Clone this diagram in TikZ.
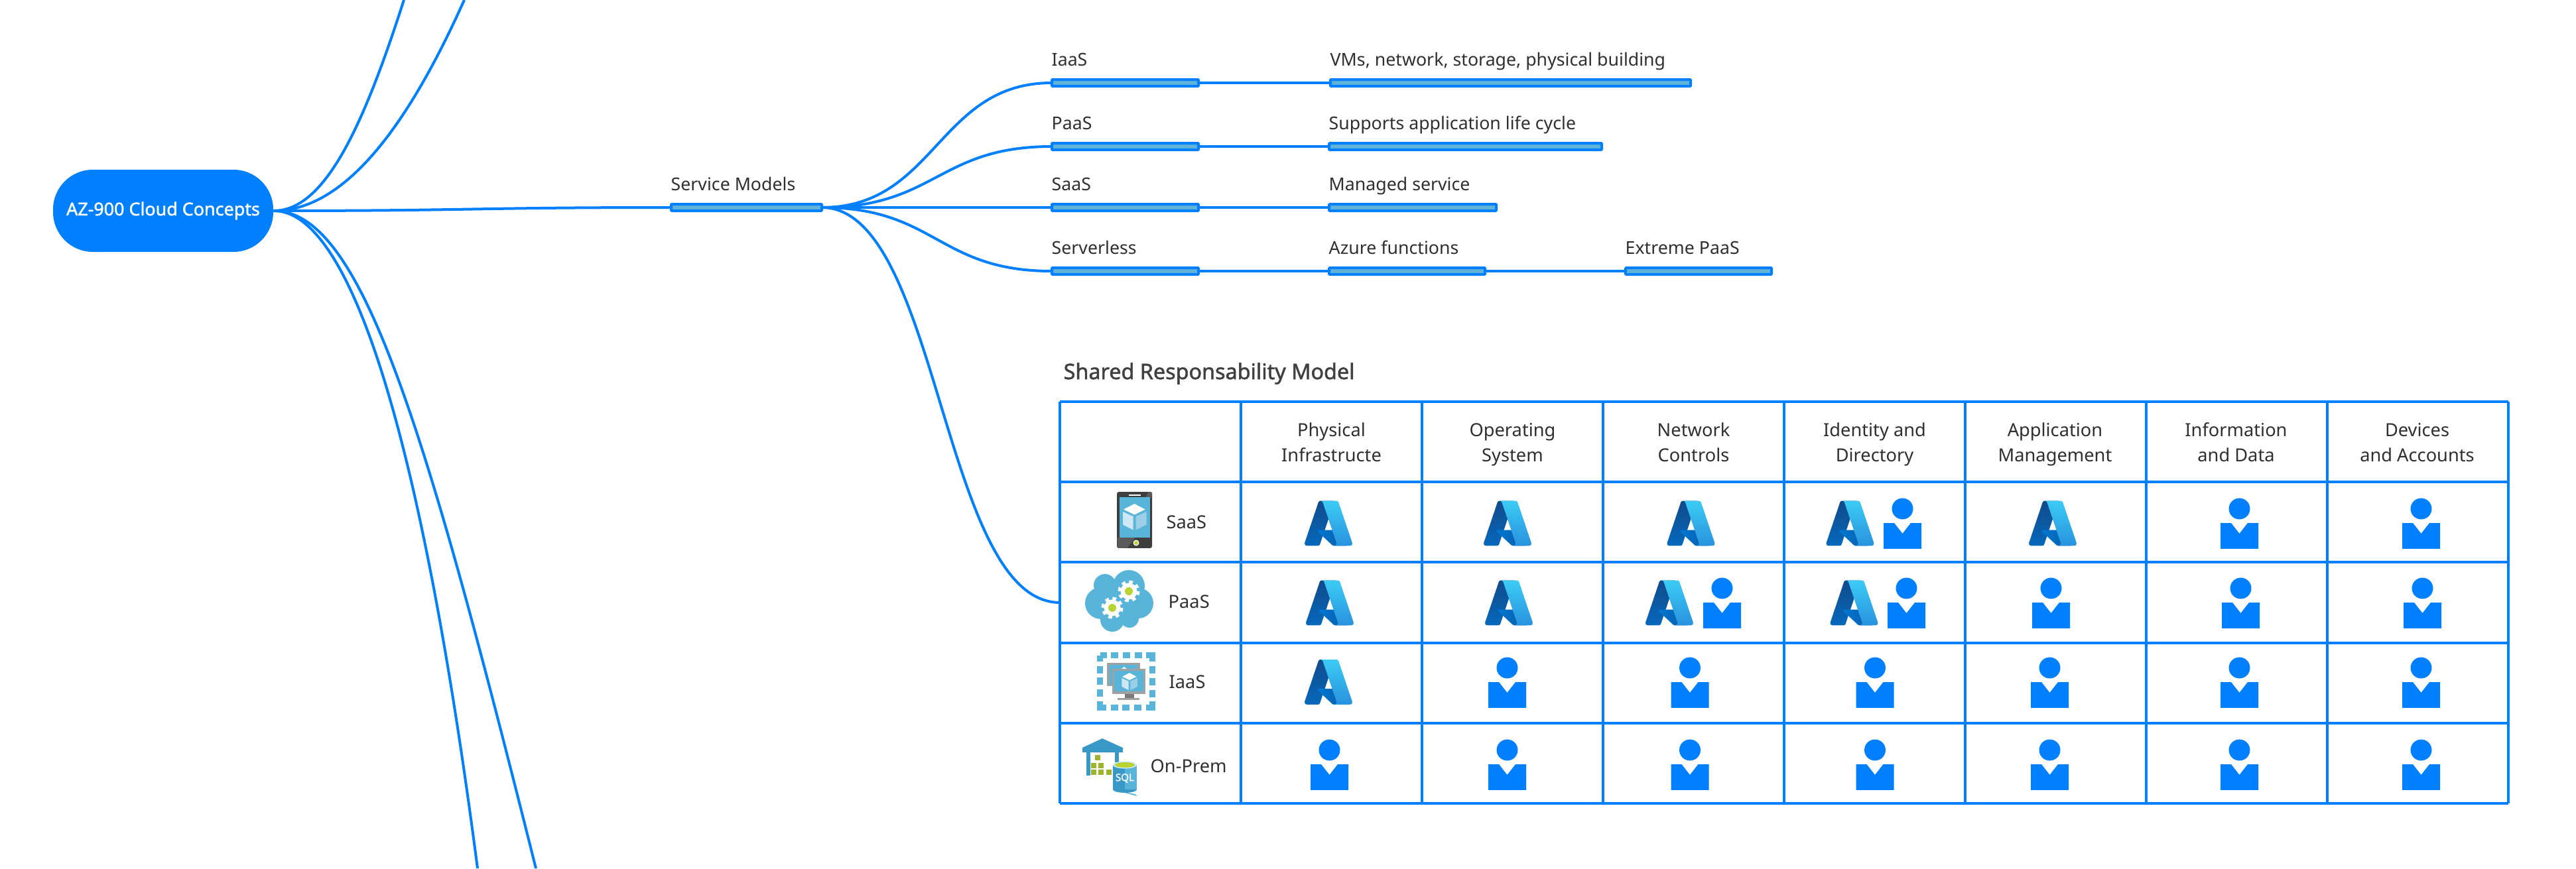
\documentclass[tikz,border=0pt]{standalone}
\usepackage{fontspec}
\setmainfont{Noto Sans}
\newfontfamily\headfont[FakeBold=1.6]{Noto Sans}
\usepackage{xcolor}
\usetikzlibrary{arrows.meta,positioning}

\definecolor{mapblue}{HTML}{007FFF}
\definecolor{barfill}{HTML}{5FB2D8}
\definecolor{iconblue}{HTML}{59B4D9}
\definecolor{icondeep}{HTML}{3999C6}
\definecolor{icongreen}{HTML}{B8D432}
\definecolor{icongrey}{HTML}{A0A1A2}
\definecolor{inktext}{HTML}{2F2F2F}
\definecolor{azA}{HTML}{114A8B}
\definecolor{azB}{HTML}{0669BC}
\definecolor{azC}{HTML}{0078D4}
\definecolor{azD}{HTML}{0A5BA6}
\definecolor{azE}{HTML}{3CCBF4}
\definecolor{azF}{HTML}{2892DF}
\definecolor{cubeA}{HTML}{CDE8F4}
\definecolor{cubeB}{HTML}{9CCFE6}
\definecolor{phonedark}{HTML}{3E3E3E}
\definecolor{phonelight}{HTML}{5A5A5A}
\definecolor{standgrey}{HTML}{7A7A7A}

\tikzset{
  azure/.pic={
    \begin{scope}[x=0.0082cm,y=-0.0082cm,shift={(-48,-48)}]
    \shade[top color=azA,bottom color=azB] (33.338,6.544) -- (59.376,6.544) -- (32.346,86.631)
      .. controls (31.8,88.3) and (30.2,89.455) .. (28.413,89.455) -- (8.149,89.455)
      .. controls (5.3,89.455) and (3.3,86.7) .. (4.221,83.985) -- (29.404,9.368)
      .. controls (30,7.7) and (31.5,6.544) .. (33.338,6.544) -- cycle;
    \shade[left color=azC,right color=azD] (71.175,60.261) -- (29.885,60.261)
      .. controls (28,60.261) and (27.2,62.3) .. (28.58,63.57) -- (55.112,88.334)
      .. controls (55.9,89.05) and (56.9,89.455) .. (57.958,89.455) -- (81.338,89.455) -- cycle;
    \shade[top color=azE,bottom color=azF] (33.648,6.544) -- (62.667,6.544)
      .. controls (64.5,6.544) and (66,7.7) .. (66.595,9.364) -- (91.779,83.984)
      .. controls (92.7,86.7) and (90.7,89.456) .. (87.851,89.456) -- (58.832,89.456)
      .. controls (61.7,89.456) and (63.7,86.7) .. (62.76,83.984) -- (37.576,9.364)
      .. controls (37,7.7) and (35.5,6.544) .. (33.648,6.544) -- cycle;
    \end{scope}
  },
  person/.pic={
    \begin{scope}[x=0.01cm,y=-0.01cm]
    \fill[mapblue] (0,-22.5) circle (16);
    \fill[mapblue] (-28.5,-1) -- (-12.5,-1) -- (0,15) -- (12.5,-1) -- (28.5,-1) -- (28.5,38) -- (-28.5,38) -- cycle;
    \end{scope}
  },
  boxcube/.pic={
    \begin{scope}[x=0.01cm,y=-0.01cm]
    \fill[white] (0,-19.5) -- (16,-11) -- (0,-3) -- (-16.5,-11) -- cycle;
    \fill[cubeA] (-17.5,-7.5) -- (-2,-0.5) -- (-2,20) -- (-17.5,12) -- cycle;
    \fill[cubeB] (2,-0.5) -- (18,-7.5) -- (18,12) -- (2,20) -- cycle;
    \end{scope}
  },
  cog/.pic={
    \begin{scope}[x=0.01cm,y=-0.01cm]
    \fill[white] (0,0) circle (12.5);
    \draw[white,line width=0.05cm,dash pattern=on 0.055cm off 0.055cm] (0,0) circle (14);
    \fill[icongreen] (0,0) circle (6);
    \end{scope}
  },
  phone/.pic={
    \begin{scope}[x=0.01cm,y=-0.01cm]
    \fill[phonedark,rounded corners=0.03cm] (-26.5,-42.5) rectangle (26.5,42.5);
    \fill[phonelight] (-26,26.5) -- (1.5,26.5) -- (-11.5,42.5) -- (-25,42.5) -- cycle;
    \fill[phonelight] (16.5,-34.5) -- (21.5,-42.5) -- (25,-42.5) -- (26.5,-41) -- (26.5,-34.5) -- cycle;
    \fill[iconblue] (-22.5,-34.5) rectangle (23.5,26.5);
    \fill[white] (-8.5,-38.5) rectangle (9.5,-36.5);
    \fill[white] (2.5,34.5) circle (4.5);
    \fill[icongreen] (2.5,34.5) circle (3);
    \pic at (0,-5) {boxcube};
    \end{scope}
  },
  cloudgear/.pic={
    \begin{scope}[x=0.01cm,y=-0.01cm]
    \fill[iconblue] (14,-24) circle (24);
    \fill[iconblue] (-22,-25) circle (17);
    \fill[iconblue] (-28,2) circle (24);
    \fill[iconblue] (-11,27) circle (18);
    \fill[iconblue] (15,25) circle (14);
    \fill[iconblue] (28,2) circle (23);
    \fill[iconblue] (0,0) circle (28);
    \pic at (14,-16) {cog};
    \pic at (-11,9) {cog};
    \end{scope}
  },
  vmframe/.pic={
    \begin{scope}[x=0.01cm,y=-0.01cm]
    \draw[iconblue,line width=0.09cm,dash pattern=on 0.19cm off 0.067cm on 0.11cm off 0.067cm on 0.11cm off 0.067cm on 0.11cm off 0.067cm,dash phase=0.095cm]
      (-39.5,-39.5) rectangle (39.5,39.5);
    \fill[icongrey] (-29,-28) rectangle (21,7);
    \fill[iconblue] (-25.5,-25) rectangle (17,5);
    \fill[white] (-7,-19) -- (-3,-22) -- (1,-19) -- cycle;
    \fill[icongrey] (-21,-19) rectangle (29,19);
    \fill[iconblue] (-18,-16) rectangle (26,15);
    \fill[standgrey] (-2,19) rectangle (12,25);
    \fill[icongrey] (-13,25) rectangle (20,28);
    \pic[scale=0.66] at (5,0) {boxcube};
    \end{scope}
  },
  onprem/.pic={
    \begin{scope}[x=0.01cm,y=-0.01cm]
    \fill[icondeep] (-11,-41) -- (20,-27) -- (20,-20) -- (-41,-20) -- (-41,-27) -- cycle;
    \fill[icondeep] (-35,-20) rectangle (-29.5,15);
    \fill[icondeep] (8,-20) rectangle (14,-5);
    \fill[icongreen!85!black] (-22,-16) rectangle +(8,8);
    \fill[icongreen!85!black] (-28,-4) rectangle +(8,8);
    \fill[icongreen!85!black] (-16.6,-4) rectangle +(8,8);
    \fill[icongreen!85!black] (-28,6) rectangle +(8,8);
    \fill[icongreen!85!black] (-16.6,6) rectangle +(8,8);
    \fill[icongreen!85!black] (-5.4,6) rectangle +(8,8);
    \fill[icondeep] (5,-1) rectangle (23,36);
    \fill[iconblue] (23,-1) rectangle (41,36);
    \fill[icondeep] (5,36) arc[start angle=180,end angle=360,x radius=18,y radius=-5] -- cycle;
    \fill[iconblue] (23,41) arc[start angle=270,end angle=360,x radius=18,y radius=5] -- cycle;
    \fill[cubeA] (23,-1) ellipse (18 and 5.5);
    \fill[icongreen] (23,-1) ellipse (15 and 4);
    \node[white,font=\headfont\fontsize{4.3}{5}\selectfont,inner sep=0] (sqltxt) at (23,19) {SQL};
    \end{scope}
  }
}

\begin{document}
\begin{tikzpicture}[
    x=1cm,y=1cm,
    bar/.style={draw=mapblue, fill=barfill, line width=0.04cm, rounded corners=0.3pt,
                minimum height=0.10cm, inner sep=0pt, outer sep=0pt},
    lbl/.style={anchor=base west, inner sep=0pt, xshift=-0.01cm, yshift=0.21cm, text=inktext,
                font=\fontsize{7.6}{9}\selectfont},
    branch/.style={draw=mapblue, line width=0.04cm},
    gridline/.style={draw=mapblue, line width=0.04cm},
    colhead/.style={anchor=base, align=center, inner sep=0pt, text=inktext,
                    font=\fontsize{7.75}{10.67}\selectfont},
    rowlbl/.style={anchor=base west, inner sep=0pt, text=inktext,
                   font=\fontsize{7.75}{9}\selectfont}
]
\useasboundingbox (0,-13.10) rectangle (38.84,0);

\node[fill=mapblue, rounded corners=0.6cm, minimum width=3.32cm, minimum height=1.24cm, inner sep=0pt,
      text=white, font=\headfont\fontsize{7.65}{9}\selectfont] (root) at (2.46,-3.18) {AZ-900 Cloud Concepts};

\node[bar, minimum width=2.27cm] (svc) at (11.255,-3.13) {};
\node[lbl] (svctxt) at (svc.north west) {Service Models};

\node[bar, minimum width=2.21cm] (iaas) at (16.965,-1.25) {};
\node[lbl] (iaastxt) at (iaas.north west) {IaaS};
\node[bar, minimum width=2.21cm] (paas) at (16.965,-2.21) {};
\node[lbl] (paastxt) at (paas.north west) {PaaS};
\node[bar, minimum width=2.21cm] (saas) at (16.965,-3.13) {};
\node[lbl] (saastxt) at (saas.north west) {SaaS};
\node[bar, minimum width=2.21cm] (srvl) at (16.965,-4.09) {};
\node[lbl] (srvltxt) at (srvl.north west) {Serverless};

\node[bar, minimum width=5.43cm] (vms) at (22.775,-1.25) {};
\node[lbl] (vmstxt) at (vms.north west) {VMs, network, storage, physical building};
\node[bar, minimum width=4.11cm] (supp) at (22.095,-2.21) {};
\node[lbl] (supptxt) at (supp.north west) {Supports application life cycle};
\node[bar, minimum width=2.52cm] (mgd) at (21.30,-3.13) {};
\node[lbl] (mgdtxt) at (mgd.north west) {Managed service};
\node[bar, minimum width=2.35cm] (azfn) at (21.215,-4.09) {};
\node[lbl] (azfntxt) at (azfn.north west) {Azure functions};
\node[bar, minimum width=2.20cm] (xpaas) at (25.61,-4.09) {};
\node[lbl] (xpaastxt) at (xpaas.north west) {Extreme PaaS};

% branches leaving the picture
\coordinate (upa) at (6.09,0);
\coordinate (upb) at (7.00,0);
\coordinate (downa) at (7.20,-13.10);
\coordinate (downb) at (8.08,-13.10);
\draw[branch] (root.east) .. controls (4.90,-3.18) and (5.48,-1.90) .. (upa);
\draw[branch] (root.east) .. controls (5.20,-3.18) and (6.15,-1.90) .. (upb);
\draw[branch] (root.east) .. controls (5.20,-3.18) and (6.29,-6.10) .. (downa);
\draw[branch] (root.east) .. controls (5.45,-3.18) and (6.40,-6.40) .. (downb);
\draw[branch] (root.east) .. controls +(3,0) and +(-3,0) .. (svc.west);

\draw[branch] (svc.east) .. controls +(1.72,0) and +(-1.72,0) .. (iaas.west);
\draw[branch] (svc.east) .. controls +(1.72,0) and +(-1.72,0) .. (paas.west);
\draw[branch] (svc.east) -- (saas.west);
\draw[branch] (svc.east) .. controls +(1.72,0) and +(-1.72,0) .. (srvl.west);
\draw[branch] (iaas.east) -- (vms.west);
\draw[branch] (paas.east) -- (supp.west);
\draw[branch] (saas.east) -- (mgd.west);
\draw[branch] (srvl.east) -- (azfn.west);
\draw[branch] (azfn.east) -- (xpaas.west);

\node[anchor=base west, inner sep=0pt, text=black!75, font=\headfont\fontsize{9.2}{12}\selectfont] (tabletitle) at (16.03,-5.72) {Shared Responsability Model};

% table
\draw[gridline, shift={(15.98,-12.12)}] (0,0) grid[xstep=2.73,ystep=1.212] (21.84,6.06);
\node[minimum width=2.73cm, minimum height=1.21cm, inner sep=0pt, outer sep=0pt] (paasrow) at (17.345,-9.09) {};
\draw[branch] (svc.east) .. controls +(1.78,0) and +(-1.78,0) .. (paasrow.west);

\node[colhead] (hphys) at (20.075,-6.96) {Physical\\Infrastructe};
\node[colhead] (hos) at (22.805,-6.96) {Operating\\System};
\node[colhead] (hnet) at (25.535,-6.96) {Network\\Controls};
\node[colhead] (hid) at (28.265,-6.96) {Identity and\\Directory};
\node[colhead] (happ) at (30.985,-6.96) {Application\\Management};
\node[colhead] (hinfo) at (33.715,-6.96) {Information\\and Data};
\node[colhead] (hdev) at (36.445,-6.96) {Devices\\and Accounts};

\node[rowlbl] (saaslbl) at (17.58,-7.97) {SaaS};
\node[rowlbl] (paaslbl) at (17.61,-9.17) {PaaS};
\node[rowlbl] (iaaslbl) at (17.62,-10.38) {IaaS};
\node[rowlbl] (premlbl) at (17.34,-11.65) {On-Prem};

\pic at (17.105,-7.845) {phone};
\pic at (16.88,-9.08) {cloudgear};
\pic at (16.98,-10.28) {vmframe};
\pic at (16.73,-11.55) {onprem};

% SaaS row
\pic at (20.03,-7.895) {azure}; \pic at (22.73,-7.895) {azure}; \pic at (25.495,-7.895) {azure};
\pic at (27.895,-7.895) {azure}; \pic at (28.685,-7.90) {person};
\pic at (30.95,-7.895) {azure}; \pic at (33.765,-7.90) {person}; \pic at (36.505,-7.90) {person};
% PaaS row
\pic at (20.05,-9.095) {azure}; \pic at (22.75,-9.095) {azure};
\pic at (25.17,-9.095) {azure}; \pic at (25.965,-9.10) {person};
\pic at (27.955,-9.095) {azure}; \pic at (28.745,-9.10) {person};
\pic at (30.925,-9.10) {person}; \pic at (33.785,-9.10) {person}; \pic at (36.525,-9.10) {person};
% IaaS row
\pic at (20.03,-10.29) {azure}; \pic at (22.725,-10.30) {person}; \pic at (25.48,-10.30) {person};
\pic at (28.27,-10.30) {person}; \pic at (30.905,-10.30) {person}; \pic at (33.765,-10.30) {person};
\pic at (36.505,-10.30) {person};
% On-Prem row
\pic at (20.045,-11.54) {person}; \pic at (22.725,-11.54) {person}; \pic at (25.48,-11.54) {person};
\pic at (28.27,-11.54) {person}; \pic at (30.905,-11.54) {person}; \pic at (33.765,-11.54) {person};
\pic at (36.505,-11.54) {person};
\end{tikzpicture}
\end{document}
